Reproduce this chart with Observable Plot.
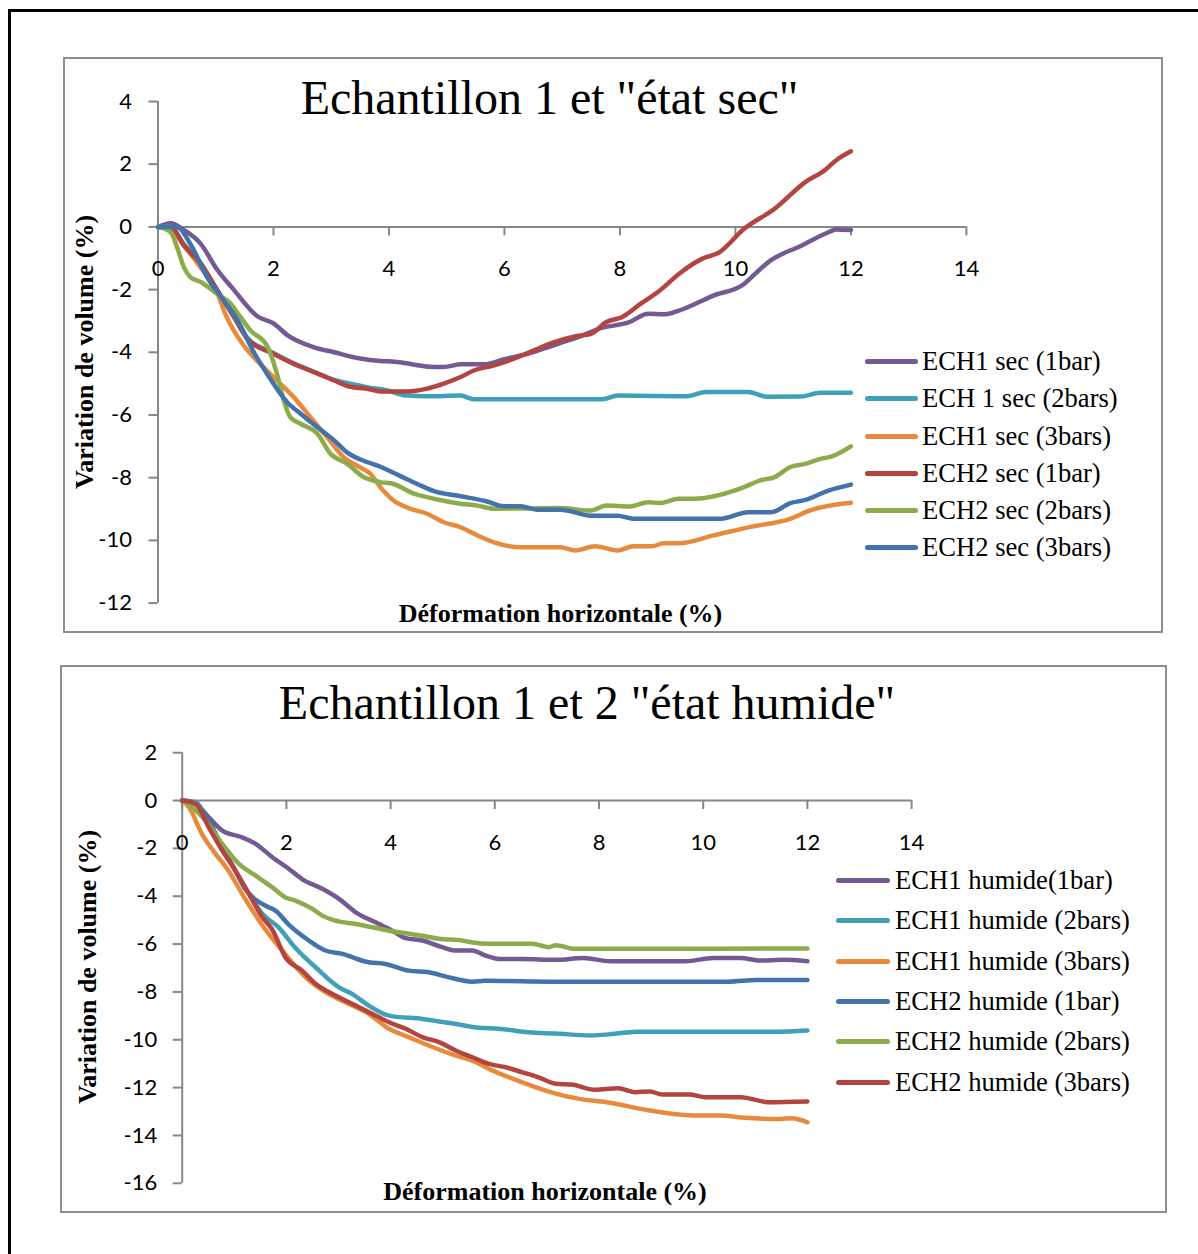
<!DOCTYPE html>
<html>
<head>
<meta charset="utf-8">
<script src="https://cdn.jsdelivr.net/npm/d3@7"></script>
<script src="https://cdn.jsdelivr.net/npm/@observablehq/plot@0.6"></script>
<style>
  html, body { margin: 0; padding: 0; background: #fff; }
  #page { position: relative; width: 1198px; height: 1254px; overflow: hidden; background: #fff; }
  .abs { position: absolute; }
  .serif { font-family: "Liberation Serif", "Times New Roman", serif; color: #000; white-space: nowrap; line-height: 1; }
  .box { position: absolute; box-sizing: border-box; border: 2.5px solid #8e8e8e; }
  .legrow { position: absolute; height: 30px; display: flex; align-items: center; }
  .legline { height: 5px; border-radius: 3px; }
</style>
</head>
<body>
<div id="page"></div>
<script>
// ---------------- DATA ----------------
const xTicks = [0, 2, 4, 6, 8, 10, 12, 14];
const yTicksSec = [4, 2, 0, -2, -4, -6, -8, -10, -12];
const yTicksHum = [2, 0, -2, -4, -6, -8, -10, -12, -14, -16];

const titleSec = 'Echantillon 1 et "état sec"';
const titleHum = 'Echantillon 1 et 2 "état humide"';
const xTitle = "Déformation horizontale (%)";
const yTitle = "Variation de volume (%)";

const namesSec = ["ECH1 sec (1bar)", "ECH 1 sec (2bars)", "ECH1 sec (3bars)", "ECH2 sec (1bar)", "ECH2 sec (2bars)", "ECH2 sec (3bars)"];
const colorsSec = ["#735a94", "#41a0b9", "#e88a3c", "#b4443f", "#8cac4b", "#4472ab"];
const namesHum = ["ECH1 humide(1bar)", "ECH1 humide (2bars)", "ECH1 humide (3bars)", "ECH2 humide (1bar)", "ECH2 humide (2bars)", "ECH2 humide (3bars)"];
const colorsHum = ["#735a94", "#41a0b9", "#e88a3c", "#4472ab", "#8cac4b", "#b4443f"];

// Dry state series [x, y]
const sec1bar1 = [[0,0],[0.22,0.12],[0.45,-0.1],[0.74,-0.54],[1.02,-1.35],[1.31,-2.0],[1.72,-2.85],[2.0,-3.08],[2.24,-3.45],[2.7,-3.84],[3.05,-4.0],[3.5,-4.2],[3.85,-4.28],[4.1,-4.3],[4.4,-4.38],[4.7,-4.46],[4.95,-4.47],[5.25,-4.38],[5.65,-4.38],[6.0,-4.22],[6.4,-4.05],[6.75,-3.84],[6.97,-3.7],[7.3,-3.5],[7.63,-3.25],[8.16,-3.04],[8.49,-2.77],[8.76,-2.79],[9.02,-2.67],[9.62,-2.19],[10.15,-1.82],[10.28,-1.6],[10.61,-1.07],[11.14,-0.6],[11.61,-0.17],[11.74,-0.08],[12.0,-0.1]];
const sec1bar2 = [[0,0],[0.2,0.02],[0.45,-0.55],[0.74,-1.15],[1.02,-2.0],[1.31,-2.85],[1.55,-3.55],[2.0,-4.02],[2.35,-4.35],[2.7,-4.62],[3.05,-4.88],[3.33,-5.0],[3.62,-5.11],[3.97,-5.22],[4.31,-5.38],[4.66,-5.4],[5.24,-5.38],[5.47,-5.5],[6.97,-5.5],[7.7,-5.5],[7.96,-5.38],[9.16,-5.4],[9.49,-5.27],[10.22,-5.27],[10.55,-5.42],[11.14,-5.41],[11.47,-5.29],[12.0,-5.29]];
const sec1bar3 = [[0,0],[0.2,-0.05],[0.45,-0.6],[0.74,-1.3],[1.0,-2.0],[1.19,-2.88],[1.49,-3.8],[1.77,-4.37],[2.06,-4.9],[2.35,-5.43],[2.64,-6.07],[2.93,-6.71],[3.22,-7.35],[3.5,-7.67],[3.68,-7.88],[3.85,-8.3],[4.08,-8.73],[4.37,-8.99],[4.66,-9.15],[4.95,-9.42],[5.24,-9.58],[5.53,-9.84],[5.82,-10.06],[6.28,-10.22],[6.97,-10.22],[7.23,-10.32],[7.57,-10.19],[7.96,-10.32],[8.23,-10.19],[8.56,-10.19],[8.76,-10.09],[9.02,-10.09],[9.62,-9.84],[10.28,-9.56],[10.95,-9.31],[11.28,-9.05],[12.0,-8.8]];
const sec2bar1 = [[0,0],[0.22,0.0],[0.45,-0.6],[0.74,-1.18],[1.02,-2.0],[1.31,-2.85],[1.54,-3.55],[2.0,-4.05],[2.35,-4.37],[2.7,-4.63],[3.05,-4.9],[3.33,-5.1],[3.62,-5.16],[3.85,-5.25],[4.31,-5.25],[4.66,-5.16],[4.95,-5.0],[5.24,-4.79],[5.47,-4.58],[5.82,-4.42],[6.22,-4.16],[6.51,-3.94],[6.85,-3.68],[7.2,-3.5],[7.5,-3.41],[7.76,-3.04],[8.03,-2.88],[8.36,-2.45],[8.69,-2.03],[9.02,-1.5],[9.42,-1.02],[9.72,-0.81],[10.15,-0.06],[10.68,0.58],[11.21,1.43],[11.54,1.8],[11.74,2.12],[12.0,2.41]];
const sec2bar2 = [[0,0],[0.22,-0.17],[0.33,-0.65],[0.45,-1.29],[0.56,-1.6],[0.74,-1.76],[1.02,-2.13],[1.26,-2.45],[1.43,-2.88],[1.6,-3.3],[1.89,-3.8],[1.95,-4.05],[2.06,-4.69],[2.18,-5.54],[2.29,-6.07],[2.47,-6.28],[2.76,-6.6],[2.99,-7.24],[3.28,-7.56],[3.56,-7.98],[3.85,-8.14],[4.08,-8.2],[4.43,-8.51],[4.66,-8.62],[5.24,-8.83],[5.53,-8.89],[5.82,-8.99],[6.97,-8.97],[7.5,-9.05],[7.76,-8.89],[8.16,-8.92],[8.49,-8.78],[8.69,-8.81],[9.02,-8.67],[9.29,-8.67],[10.15,-8.3],[10.42,-8.09],[10.68,-7.98],[10.95,-7.66],[11.21,-7.56],[11.47,-7.4],[11.67,-7.32],[12.0,-7.0]];
const sec2bar3 = [[0,0],[0.33,0.0],[0.56,-0.54],[0.85,-1.6],[1.14,-2.35],[1.37,-2.95],[1.66,-4.0],[1.89,-4.69],[2.24,-5.6],[2.47,-5.96],[2.76,-6.39],[3.05,-6.81],[3.28,-7.2],[3.62,-7.5],[3.85,-7.65],[4.2,-7.95],[4.49,-8.2],[4.78,-8.43],[5.24,-8.59],[5.7,-8.76],[5.99,-8.91],[6.28,-8.91],[6.56,-9.02],[6.97,-9.02],[7.5,-9.21],[7.96,-9.21],[8.23,-9.31],[9.75,-9.31],[10.22,-9.1],[10.62,-9.1],[10.95,-8.81],[11.21,-8.71],[11.61,-8.41],[12.0,-8.22]];

// Wet state series [x, y]
const hum1bar1 = [[0,0],[0.26,-0.14],[0.51,-0.7],[0.77,-1.26],[1.15,-1.54],[1.41,-1.81],[1.73,-2.37],[2.05,-2.86],[2.3,-3.28],[2.69,-3.69],[3.01,-4.11],[3.33,-4.67],[3.71,-5.09],[4.03,-5.44],[4.29,-5.75],[4.61,-5.85],[4.99,-6.13],[5.25,-6.27],[5.57,-6.27],[5.82,-6.48],[6.08,-6.62],[6.53,-6.62],[7.17,-6.66],[7.7,-6.58],[8.22,-6.72],[9.66,-6.72],[10.19,-6.58],[10.72,-6.58],[11.09,-6.69],[11.55,-6.66],[12.0,-6.72]];
const hum1bar2 = [[0,0],[0.26,-0.07],[0.51,-0.98],[0.77,-1.95],[1.02,-2.93],[1.28,-3.9],[1.54,-4.74],[1.85,-5.3],[2.17,-6.15],[2.56,-6.97],[3.01,-7.81],[3.26,-8.08],[3.58,-8.57],[3.97,-8.99],[4.61,-9.13],[5.25,-9.34],[5.69,-9.5],[6.08,-9.54],[6.65,-9.69],[7.17,-9.74],[7.84,-9.82],[8.3,-9.75],[8.75,-9.66],[11.4,-9.66],[12.0,-9.61]];
const hum1bar3 = [[0,0],[0.13,-0.28],[0.38,-1.4],[0.64,-2.23],[0.89,-2.93],[1.15,-3.9],[1.41,-4.8],[1.6,-5.4],[1.92,-6.27],[2.37,-7.39],[2.75,-8.01],[3.13,-8.43],[3.58,-8.92],[3.97,-9.54],[4.35,-9.89],[4.73,-10.24],[5.25,-10.66],[5.57,-10.87],[5.89,-11.22],[6.53,-11.78],[7.17,-12.25],[7.62,-12.47],[8.15,-12.61],[8.98,-12.96],[9.88,-13.17],[10.34,-13.17],[10.79,-13.26],[11.47,-13.31],[11.7,-13.28],[12.0,-13.45]];
const hum2bar1 = [[0,0],[0.26,-0.14],[0.51,-0.84],[0.77,-1.95],[1.02,-2.93],[1.21,-3.7],[1.41,-4.15],[1.66,-4.46],[1.79,-4.6],[2.05,-5.2],[2.43,-5.85],[2.75,-6.27],[3.07,-6.41],[3.58,-6.76],[3.9,-6.83],[4.35,-7.11],[4.73,-7.18],[5.12,-7.39],[5.57,-7.57],[5.82,-7.53],[7.17,-7.57],[10.49,-7.57],[11.02,-7.5],[12.0,-7.5]];
const hum2bar2 = [[0,0],[0.19,-0.28],[0.45,-0.84],[0.77,-1.81],[1.09,-2.65],[1.41,-3.14],[1.73,-3.63],[1.98,-4.05],[2.17,-4.18],[2.5,-4.53],[2.69,-4.81],[2.94,-5.02],[3.33,-5.16],[3.97,-5.44],[4.61,-5.65],[4.93,-5.78],[5.37,-5.85],[5.57,-5.93],[5.89,-5.99],[6.72,-5.99],[7.04,-6.13],[7.17,-6.05],[7.54,-6.2],[12.0,-6.18]];
const hum2bar3 = [[0,0],[0.26,-0.14],[0.51,-1.12],[0.77,-2.09],[1.02,-2.93],[1.28,-3.9],[1.54,-4.88],[1.73,-5.4],[1.98,-6.55],[2.3,-7.11],[2.56,-7.66],[2.94,-8.15],[3.33,-8.57],[3.65,-8.92],[3.97,-9.27],[4.29,-9.54],[4.61,-9.89],[4.93,-10.1],[5.25,-10.45],[5.57,-10.73],[5.89,-11.01],[6.21,-11.15],[6.53,-11.36],[6.84,-11.57],[7.17,-11.84],[7.47,-11.87],[7.92,-12.09],[8.37,-12.03],[8.68,-12.19],[8.98,-12.16],[9.21,-12.29],[9.74,-12.29],[10.04,-12.4],[10.72,-12.4],[11.25,-12.61],[12.0,-12.58]];

const seriesSec = [sec1bar1, sec1bar2, sec1bar3, sec2bar1, sec2bar2, sec2bar3];
const seriesHum = [hum1bar1, hum1bar2, hum1bar3, hum2bar1, hum2bar2, hum2bar3];

// ---------------- LAYOUT ----------------
const page = document.getElementById("page");
const AXIS = "#878787";

function el(tag, cls, styles, text) {
  const e = document.createElement(tag);
  if (cls) e.className = cls;
  Object.assign(e.style, styles || {});
  if (text != null) e.textContent = text;
  page.appendChild(e);
  return e;
}

// outer black frame (left + top)
el("div", "abs", {left: "8px", top: "9px", width: "1300px", height: "1400px", borderLeft: "3px solid #000", borderTop: "3px solid #000"});

function chart(cfg) {
  el("div", "box", {left: cfg.box[0] + "px", top: cfg.box[1] + "px", width: cfg.box[2] + "px", height: cfg.box[3] + "px"});
  const marks = [
    Plot.ruleX([0], {y1: cfg.yDomain[0], y2: cfg.yDomain[1], stroke: AXIS, strokeWidth: 2}),
    Plot.ruleY(cfg.yTicks, {y: d => d, x1: 0, x2: 0, insetLeft: -9, stroke: AXIS, strokeWidth: 2}),
    Plot.text(cfg.yTicks, {x: 0, y: d => d, text: d => String(d), dx: cfg.ylabelDx, textAnchor: "end", fill: "#000", fontSize: 22}),
    Plot.ruleY([0], {x1: 0, x2: 14, stroke: AXIS, strokeWidth: 2}),
    Plot.ruleX(xTicks, {x: d => d, y1: 0, y2: 0, insetBottom: -9, stroke: AXIS, strokeWidth: 2}),
    Plot.text(xTicks, {x: d => d, y: 0, text: d => String(d), dy: 42.5, fill: "#000", fontSize: 22}),
    ...cfg.series.map((s, i) => Plot.line(s, {x: d => d[0], y: d => d[1], stroke: cfg.colors[i], strokeWidth: 4.5, curve: "monotone-x", strokeLinejoin: "round", strokeLinecap: "round"}))
  ];
  const svg = Plot.plot({
    width: cfg.svg[2], height: cfg.svg[3],
    marginLeft: cfg.m[0], marginRight: cfg.m[1], marginTop: cfg.m[2], marginBottom: cfg.m[3],
    x: {domain: [0, 14], axis: null},
    y: {domain: cfg.yDomain, axis: null},
    style: {background: "transparent", overflow: "visible", fontFamily: "Lato, 'Open Sans', sans-serif", fontSize: "22px"},
    marks
  });
  svg.style.position = "absolute";
  svg.style.left = cfg.svg[0] + "px";
  svg.style.top = cfg.svg[1] + "px";
  page.appendChild(svg);

  // title
  el("div", "abs serif", {left: cfg.title[0] + "px", top: cfg.title[1] + "px", fontSize: "48px", transform: "translateX(-50%)"}, cfg.titleText);
  // x-axis title
  el("div", "abs serif", {left: cfg.xt[0] + "px", top: cfg.xt[1] + "px", fontSize: "26px", fontWeight: "bold", transform: "translateX(-50%)"}, xTitle);
  // y-axis title
  el("div", "abs serif", {left: cfg.yt[0] + "px", top: cfg.yt[1] + "px", fontSize: "26px", fontWeight: "bold", transform: "translate(-50%,-50%) rotate(-90deg)"}, yTitle);
  // legend
  cfg.names.forEach((n, i) => {
    const row = el("div", "legrow serif", {left: cfg.leg.x + "px", top: (cfg.leg.ys[i] - 15) + "px", fontSize: "26.6px"});
    const ln = document.createElement("div");
    ln.className = "legline";
    ln.style.width = cfg.leg.w + "px";
    ln.style.background = cfg.colors[i];
    ln.style.marginRight = cfg.leg.gap + "px";
    row.appendChild(ln);
    const t = document.createElement("span");
    t.textContent = n;
    row.appendChild(t);
  });
}

chart({
  box: [63, 57, 1100, 576],
  svg: [66, 58, 1094, 572],
  m: [91.5, 194.1, 43, 27.4],
  yDomain: [-12, 4],
  yTicks: yTicksSec,
  ylabelDx: -26,
  series: seriesSec,
  colors: colorsSec,
  names: namesSec,
  titleText: titleSec,
  title: [549.5, 73.8],
  xt: [560.5, 600.9],
  yt: [85, 352],
  leg: {x: 865, w: 53, gap: 4, ys: [361, 398.5, 436, 473, 510, 547]}
});

chart({
  box: [60, 665, 1107, 548],
  svg: [64, 668, 1100, 543],
  m: [117.7, 252.9, 84.2, 28.2],
  yDomain: [-16, 2],
  yTicks: yTicksHum,
  ylabelDx: -25,
  series: seriesHum,
  colors: colorsHum,
  names: namesHum,
  titleText: titleHum,
  title: [587, 679.1],
  xt: [545, 1178.9],
  yt: [88, 967],
  leg: {x: 836, w: 54, gap: 5, ys: [880, 920, 961, 1001, 1041, 1082]}
});
</script>
</body>
</html>
